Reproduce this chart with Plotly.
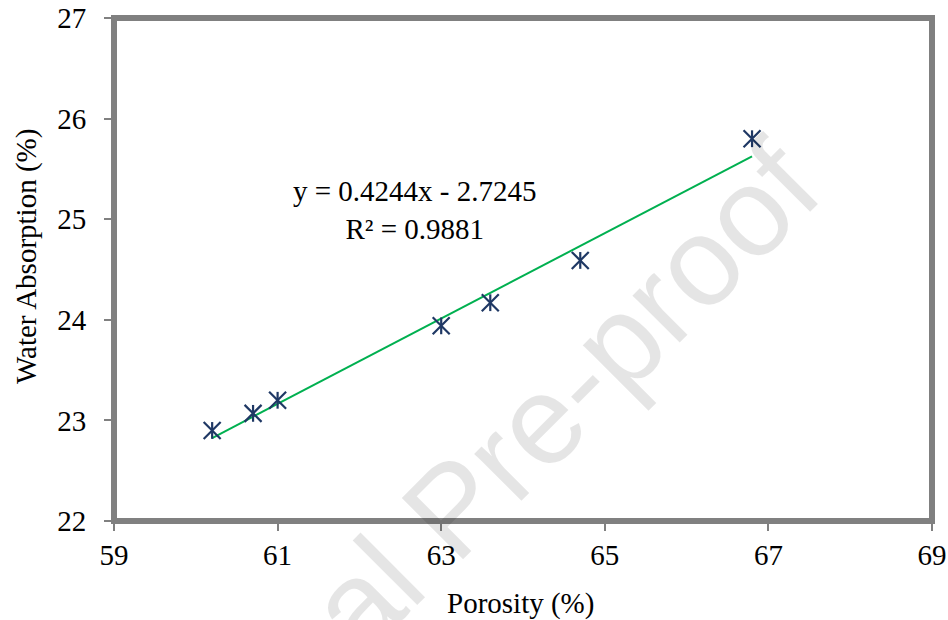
import plotly.graph_objects as go

# Data
porosity = [60.2, 60.7, 61.0, 63.0, 63.6, 64.7, 66.8]
water_absorption = [22.90, 23.07, 23.20, 23.94, 24.17, 24.59, 25.80]

# Linear trendline as reported on the chart
slope = 0.4244
intercept = -2.7245
equation_text = "y = 0.4244x - 2.7245<br>R² = 0.9881"

x_ticks = [59, 61, 63, 65, 67, 69]
y_ticks = [22, 23, 24, 25, 26, 27]

x_title = "Porosity (%)"
y_title = "Water Absorption (%)"
watermark = "Journal Pre-proof"

serif = "Liberation Serif"
marker_color = "#1F3864"
trend_color = "#00B050"
frame_color = "#808080"

trend_x = [min(porosity), max(porosity)]
trend_y = [slope * v + intercept for v in trend_x]

fig = go.Figure()

fig.add_trace(go.Scatter(
    x=trend_x, y=trend_y, mode="lines",
    line=dict(color=trend_color, width=2), showlegend=False, hoverinfo="skip"))

fig.add_trace(go.Scatter(
    x=porosity, y=water_absorption, mode="markers",
    marker=dict(symbol="x-thin-open", size=17, color=marker_color,
                line=dict(color=marker_color, width=2.2)),
    showlegend=False))
fig.add_trace(go.Scatter(
    x=porosity, y=water_absorption, mode="markers",
    marker=dict(symbol="line-ns-open", size=12, color=marker_color,
                line=dict(color=marker_color, width=2.2)),
    showlegend=False, hoverinfo="skip"))

L, R, T, B = 114, 16, 18, 99
W, H = 948, 620
pw, ph = W - L - R, H - T - B

def px(xpix):
    return (xpix - L) / pw

def py(ypix):
    return (H - B - ypix) / ph

annotations = [
    dict(text=equation_text, x=px(414.5), y=py(210), xref="paper", yref="paper",
         showarrow=False, xanchor="center", yanchor="middle", align="center",
         font=dict(family=serif, size=29, color="black")),
    dict(text=x_title, x=px(520), y=py(603), xref="paper", yref="paper",
         showarrow=False, xanchor="center", yanchor="middle",
         font=dict(family=serif, size=29, color="black")),
    dict(text=y_title, x=px(26), y=py(257), xref="paper", yref="paper",
         showarrow=False, xanchor="center", yanchor="middle", textangle=-90,
         font=dict(family=serif, size=29, color="black")),
    dict(text=watermark, x=px(452), y=py(508), xref="paper", yref="paper",
         showarrow=False, xanchor="center", yanchor="middle", textangle=-45,
         font=dict(family="Liberation Sans", size=126,
                   color="rgba(0,0,0,0.10)")),
]

fig.update_layout(
    width=W, height=H, autosize=False,
    margin=dict(l=L, r=R, t=T, b=B, autoexpand=False),
    paper_bgcolor="white", plot_bgcolor="white",
    annotations=annotations,
    shapes=[dict(type="rect", xref="paper", yref="paper", x0=0, x1=1, y0=0, y1=1,
                 line=dict(color=frame_color, width=6), layer="above")],
    xaxis=dict(range=[59, 69], tickvals=x_ticks, ticktext=[str(v) for v in x_ticks],
               ticks="outside", ticklen=9, tickwidth=1.5, tickcolor=frame_color,
               showgrid=False, zeroline=False, showline=False, automargin=False,
               ticklabelstandoff=-1,
               tickfont=dict(family=serif, size=29, color="black")),
    yaxis=dict(range=[22, 27], tickvals=y_ticks, ticktext=[str(v) for v in y_ticks],
               ticks="outside", ticklen=9, tickwidth=1.5, tickcolor=frame_color,
               showgrid=False, zeroline=False, showline=False, automargin=False,
               ticklabelstandoff=12,
               tickfont=dict(family=serif, size=29, color="black")),
)

fig.write_html("out.html")
